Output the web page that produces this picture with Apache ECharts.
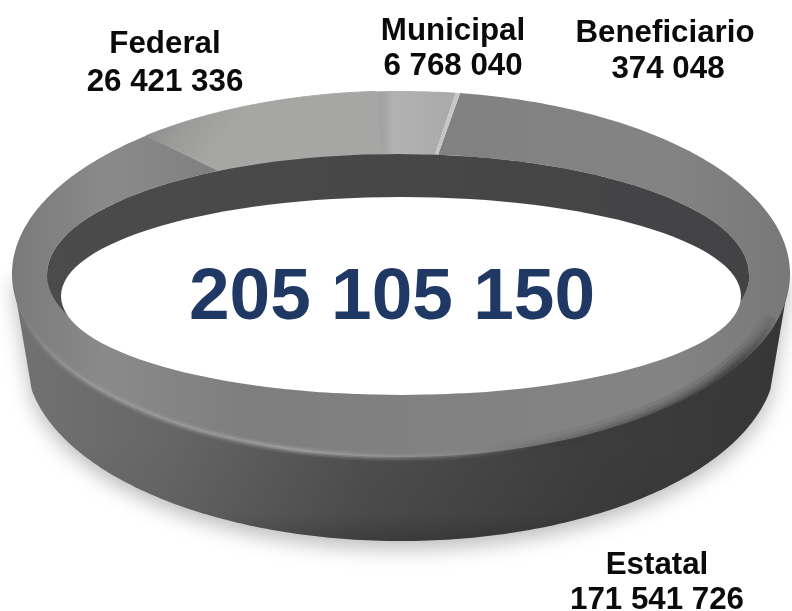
<!DOCTYPE html>
<html>
<head>
<meta charset="utf-8">
<style>html,body{margin:0;padding:0;background:#fff}#c{width:792px;height:611px}</style>
<script src="https://cdn.jsdelivr.net/npm/echarts@6/dist/echarts.min.js"></script>
</head>
<body>
<div id="c"></div>
<script>
// ---- data ----
const categories = ['Municipal', 'Beneficiario', 'Federal', 'Estatal'];
const amounts = [6768040, 374048, 26421336, 171541726];

// ---- layout & style (kept apart from data) ----
const labelFont = '"Liberation Sans", Arial, sans-serif';
const labelLines = {
  Federal: [[165, 44], [165, 82]],
  Municipal: [[453, 31], [453, 66]],
  Beneficiario: [[665, 33], [668, 69]],
  Estatal: [[657, 565], [657, 600]]
};
const totalPos = [392, 299];
const OUT = {cx: 401, cy: 274, rx: 389, ry: 183};
const INN = {cx: 398, cy: 274.5, rx: 351, ry: 120.5};
const HOLE = {cx: 401, cy: 296, rx: 340, ry: 99};
const BASE = {cx: 401, cy: 358, rx: 375, ry: 183};
const startDeg = -3.8, federalSquash = 0.8, innerSquash = 0.75;

const lin = (x, y, x2, y2, stops) => ({type: 'linear', x, y, x2, y2, global: true,
  colorStops: stops.map(s => ({offset: s[0], color: s[1]}))});
const sliceFill = {
  Municipal: lin(372, 0, 458, 0, [[0, '#a8a8a6'], [0.12, '#a2a2a2'], [0.25, '#b2b2b2'], [1, '#a9a9a9']]),
  Beneficiario: '#c6c6c6',
  Federal: lin(165, 110, 215, 150, [[0, '#8d8d8d'], [0.35, '#9a9a99'], [1, '#a6a6a4']]),
  Estatal: lin(12, 0, 790, 0, [[0, '#7a7a7a'], [0.12, '#8a8a8a'], [0.3, '#7e7e7e'], [0.6, '#828282'], [0.85, '#838383'], [1, '#787878']])
};
const sliceOrder = [3, 2, 0, 1];

const rad = d => d * Math.PI / 180;
const pt = (e, t) => [e.cx + e.rx * Math.sin(rad(t)), e.cy - e.ry * Math.cos(rad(t))];
function arc(e, t0, t1, n) {
  const out = [];
  for (let i = 0; i <= n; i++) out.push(pt(e, t0 + (t1 - t0) * i / n));
  return out;
}
const fmt = v => String(v).replace(/\B(?=(\d{3})+$)/g, ' ');
const total = amounts.reduce((a, b) => a + b, 0);

// drawn angular extents, clockwise from the top; Federal is foreshortened by the perspective
const span = amounts.map(v => v / total * 360);
function extent(i) {
  const a0 = startDeg, a1 = a0 + span[0], a2 = a1 + span[1];
  const fed = span[2] * federalSquash;
  if (i === 0) return [a0, a1];
  if (i === 1) return [a1, a2];
  if (i === 2) return [a0 - fed, a0];
  return [a2, a0 - fed + 360];
}
// inner-rim angle for an outer-rim angle (rim is compressed near the back)
const innerAngle = t => t > 180 ? 360 + (t - 360) * innerSquash : t * innerSquash;

function renderBase() {
  const wall = arc(BASE, 100, 260, 160);
  wall.unshift(pt(OUT, 90));
  wall.push(pt(OUT, 270));
  return {type: 'group', children: [
    {type: 'polygon', shape: {points: wall},
      style: {fill: lin(12, 0, 790, 0, [[0, '#727272'], [0.2, '#666666'], [0.45, '#4e4e4e'], [0.75, '#3d3d3d'], [1, '#363636']]),
        shadowBlur: 20, shadowOffsetY: 8, shadowColor: 'rgba(0,0,0,0.26)'}},
    {type: 'polygon', shape: {points: wall},
      style: {fill: lin(0, 440, 0, 541, [[0, 'rgba(0,0,0,0)'], [0.75, 'rgba(0,0,0,0.05)'], [1, 'rgba(0,0,0,0.22)']])}}
  ]};
}

function renderSlice(params, api) {
  const idx = api.value(0);
  const name = categories[idx];
  const [t0, t1] = extent(idx);
  const n = Math.max(4, Math.round((t1 - t0) * 1.5));
  const points = arc(OUT, t0, t1, n).concat(arc(INN, innerAngle(t1), innerAngle(t0), n));
  return {type: 'polygon', z2: sliceOrder.indexOf(idx), shape: {points},
    style: {fill: sliceFill[name], stroke: name === 'Federal' ? sliceFill[name] : null, lineWidth: 1}};
}

function renderHole() {
  const softRim = {cx: OUT.cx, cy: OUT.cy + 3, rx: OUT.rx - 6, ry: OUT.ry};
  const softArc = arc(softRim, 168, 103, 90);
  const softStroke = a => lin(470, 0, 780, 0, [[0, 'rgba(58,58,58,0)'], [0.5, 'rgba(58,58,58,' + a * 0.7 + ')'], [0.85, 'rgba(58,58,58,' + a + ')'], [1, 'rgba(58,58,58,0)']]);
  const softLayers = [[24, 0.16], [16, 0.24], [10, 0.34], [5, 0.5]].map(l => ({
    type: 'polyline', shape: {points: softArc},
    style: {fill: null, lineWidth: l[0], lineCap: 'butt', stroke: softStroke(l[1])}}));
  const ridge = arc(OUT, 262, 160, 120);
  const ridgeStroke = a => lin(15, 0, 540, 0, [[0, 'rgba(175,175,175,0)'], [0.1, 'rgba(170,170,170,' + a * 0.7 + ')'], [0.55, 'rgba(178,178,178,' + a + ')'], [0.85, 'rgba(150,150,150,' + a * 0.6 + ')'], [1, 'rgba(140,140,140,0)']]);
  const ridgeLayers = [[9, 0.12], [6, 0.2], [3, 0.4]].map(l => ({
    type: 'polyline', shape: {points: ridge},
    style: {fill: null, lineWidth: l[0], stroke: ridgeStroke(l[1])}}));
  return {type: 'group', children: softLayers.concat(ridgeLayers).concat([
    {type: 'ellipse', shape: {cx: INN.cx, cy: INN.cy, rx: INN.rx, ry: INN.ry},
      style: {fill: lin(40, 0, 750, 0, [[0, '#4b4b4b'], [0.5, '#474747'], [1, '#434346']])}},
    {type: 'ellipse', shape: {cx: HOLE.cx, cy: HOLE.cy, rx: HOLE.rx, ry: HOLE.ry}, style: {fill: '#ffffff'}}
  ])};
}

function renderLabel(params, api) {
  const name = categories[api.value(0)];
  const lines = [name, fmt(amounts[api.value(0)])];
  return {type: 'group', children: lines.map((txt, k) => ({
    type: 'text', style: {text: txt, x: labelLines[name][k][0], y: labelLines[name][k][1],
      align: 'center', verticalAlign: 'middle', fill: '#0b0b0b',
      font: 'bold 31.3px ' + labelFont}}))};
}

function renderTotal() {
  return {type: 'text', style: {text: fmt(total), x: totalPos[0], y: totalPos[1], align: 'center',
    verticalAlign: 'middle', fill: '#203864', font: 'bold 73px ' + labelFont}};
}

const rows = categories.map((c, i) => [i, amounts[i], c]);
const chart = echarts.init(document.getElementById('c'), null, {renderer: 'canvas'});
chart.setOption({
  animation: false,
  backgroundColor: '#ffffff',
  tooltip: {show: false},
  series: [
    {type: 'custom', coordinateSystem: 'none', z: 1, silent: true, data: [[0]], renderItem: renderBase},
    {type: 'custom', coordinateSystem: 'none', z: 2, silent: true, data: rows, dimensions: ['idx', 'value', 'name'], renderItem: renderSlice},
    {type: 'custom', coordinateSystem: 'none', z: 3, silent: true, data: [[0]], renderItem: renderHole},
    {type: 'custom', coordinateSystem: 'none', z: 4, silent: true, data: rows, dimensions: ['idx', 'value', 'name'], renderItem: renderLabel},
    {type: 'custom', coordinateSystem: 'none', z: 5, silent: true, data: [[total]], renderItem: renderTotal}
  ]
});
</script>
</body>
</html>
